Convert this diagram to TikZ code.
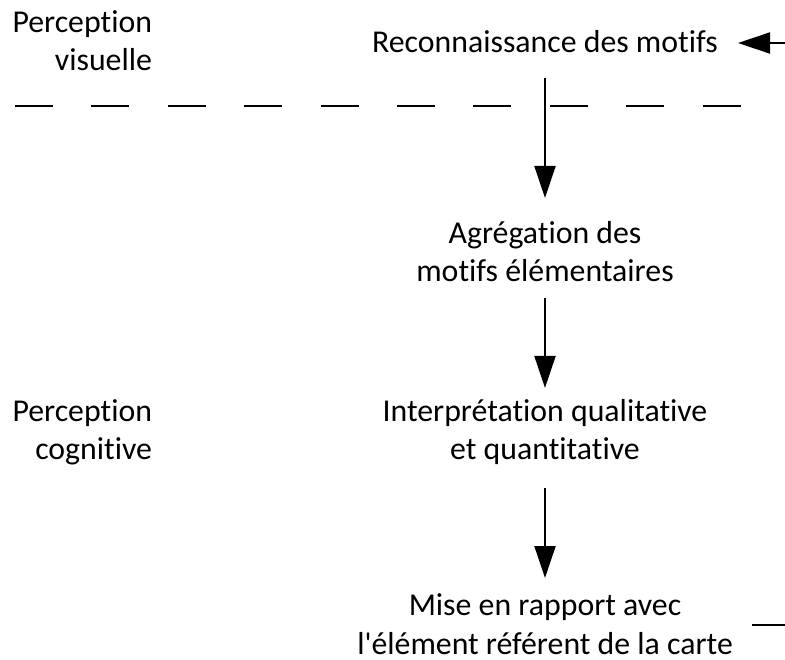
\documentclass[tikz,border=0pt]{standalone}
\usepackage{fontspec}
\setmainfont{Carlito}[Ligatures={TeXOff,NoCommon}]
\usetikzlibrary{arrows.meta}
\begin{document}
\begin{tikzpicture}[x=1pt,y=-1pt,
  txt/.style={inner sep=0pt,outer sep=0pt,font=\fontsize{31.8}{38.3}\selectfont,align=center},
  lbl/.style={inner sep=0pt,outer sep=0pt,font=\fontsize{31.8}{38.3}\selectfont,align=right},
  arr/.style={line width=2pt,-{Triangle[width=21pt,length=32pt]}},
  sep/.style={line width=2pt,dash pattern=on 38pt off 38.4pt}]
\useasboundingbox (0,0) rectangle (785,660);
% labels on the left (base = baseline of last line)
\node[lbl,anchor=base east] (pv) at (152,71) {Perception\\visuelle};
\node[lbl,anchor=base east] (pc) at (152,460) {Perception\\cognitive};
% steps
\node[txt,anchor=base] (n1) at (545,53) {Reconnaissance des motifs};
\node[txt,anchor=base] (n2) at (545,282) {Agrégation des\\motifs élémentaires};
\node[txt,anchor=base] (n3) at (545,460) {Interprétation qualitative\\et quantitative};
\node[txt,anchor=base] (n4) at (545,654) {Mise en rapport avec\\l'élément référent de la carte};
% separator
\coordinate (sl) at (15,106);
\coordinate (sr) at (742,106);
\draw[sep] (sl) -- (sr);
% incoming arrow
\coordinate (in) at (785,43);
\coordinate (inTip) at (738,43);
\draw[arr] (in) -- (inTip);
% outgoing stub
\coordinate (outA) at (752,625);
\coordinate (outB) at (785,625);
\draw[line width=2pt] (outA) -- (outB);
% arrows
\coordinate (a1s) at (545,78);  \coordinate (a1e) at (545,198);
\coordinate (a2s) at (545,298); \coordinate (a2e) at (545,388);
\coordinate (a3s) at (545,488); \coordinate (a3e) at (545,578);
\draw[arr] (a1s) -- (a1e);
\draw[arr] (a2s) -- (a2e);
\draw[arr] (a3s) -- (a3e);
\end{tikzpicture}
\end{document}
